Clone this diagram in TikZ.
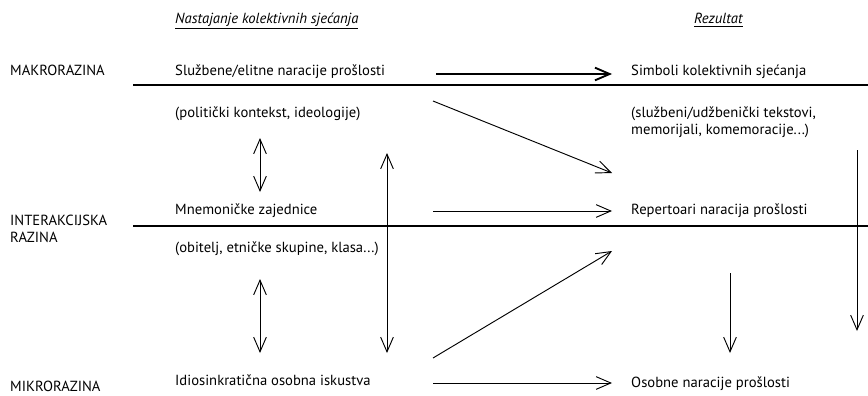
\documentclass[tikz,border=0pt]{standalone}
\usepackage{fontspec}
\setmainfont{PT Sans}
\usetikzlibrary{arrows.meta}

\begin{document}
\begin{tikzpicture}[x=0.03cm,y=-0.03cm,
  txt/.style={anchor=base west,inner sep=0pt,align=left,font=\fontsize{12.5}{14.4}\selectfont},
  arr/.style={-{Straight Barb[length=4.4mm,width=3.8mm]},line width=0.8pt},
  dbl/.style={{Straight Barb[length=4.4mm,width=3.8mm]}-{Straight Barb[length=4.4mm,width=3.8mm]},line width=0.8pt},
  rule/.style={line width=1.6pt}]
\useasboundingbox (0,0) rectangle (868,396);
% headings
\node[txt] (hnast) at (175,24) {\underline{\textit{Nastajanje kolektivnih sjećanja}}};
\node[txt] (hrez) at (694,24) {\underline{\textit{Rezultat}}};
% levels
\node[txt] (makro) at (10,76) {MAKRORAZINA};
\node[txt] (inter) at (10,242) {INTERAKCIJSKA\\RAZINA};
\node[txt] (mikro) at (10,391) {MIKRORAZINA};
% left column
\node[txt] (sluz) at (175,76) {Službene/elitne naracije prošlosti};
\node[txt] (polit) at (175,118) {(politički kontekst, ideologije)};
\node[txt] (mnem) at (175,214) {Mnemoničke zajednice};
\node[txt] (obit) at (175,252) {(obitelj, etničke skupine, klasa...)};
\node[txt] (idio) at (175,385) {Idiosinkratična osobna iskustva};
% right column
\node[txt] (simb) at (631,76) {Simboli kolektivnih sjećanja};
\node[txt] (udzb) at (631,134) {(službeni/udžbenički tekstovi,\\memorijali, komemoracije...)};
\node[txt] (rep) at (631,214) {Repertoari naracija prošlosti};
\node[txt] (osob) at (631,387) {Osobne naracije prošlosti};
% rules
\coordinate (r1a) at (133,85);
\coordinate (r1b) at (868,85);
\coordinate (r2a) at (133,226);
\coordinate (r2b) at (868,226);
\draw[rule] (r1a) -- (r1b);
\draw[rule] (r2a) -- (r2b);
% arrow ends
\coordinate (a1) at (436,74);  \coordinate (b1) at (612,74);
\coordinate (a2) at (433,101); \coordinate (b2) at (612,173);
\coordinate (a3) at (433,211); \coordinate (b3) at (612,211);
\coordinate (a4) at (433,358); \coordinate (b4) at (612,251);
\coordinate (a5) at (433,383); \coordinate (b5) at (612,383);
\coordinate (a6) at (730,273); \coordinate (b6) at (730,353);
\coordinate (a7) at (857,150); \coordinate (b7) at (857,331);
\coordinate (d1) at (260,138); \coordinate (e1) at (260,192);
\coordinate (d2) at (260,279); \coordinate (e2) at (260,353);
\coordinate (d3) at (387,153); \coordinate (e3) at (387,353);
\draw[arr,line width=1.6pt] (a1) -- (b1);
\foreach \i in {2,...,7}
  \draw[arr] (a\i) -- (b\i);
\foreach \i in {1,2,3}
  \draw[dbl] (d\i) -- (e\i);
\end{tikzpicture}
\end{document}
